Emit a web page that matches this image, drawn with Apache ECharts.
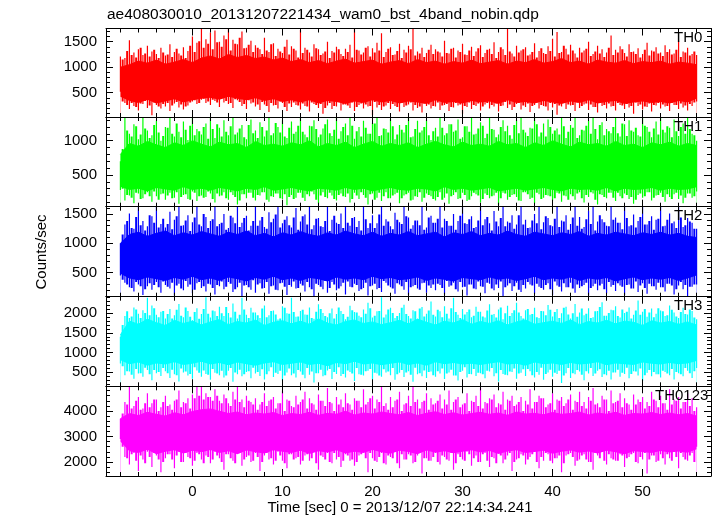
<!DOCTYPE html>
<html><head><meta charset="utf-8">
<script src="https://cdn.jsdelivr.net/npm/echarts@6/dist/echarts.min.js"></script>
<style>html,body{margin:0;padding:0;background:#fff}#c{width:717px;height:516px}</style>
</head><body><div id="c"></div><script>
const titleText = 'ae408030010_20131207221434_wam0_bst_4band_nobin.qdp';
const xLabel = 'Time [sec] 0 = 2013/12/07 22:14:34.241';
const yLabel = 'Counts/sec';
const bandNames = ['TH0', 'TH1', 'TH2', 'TH3', 'TH0123'];
const bandColors = ['#ff0000', '#00ff00', '#0000ff', '#00ffff', '#ff00ff'];

// spike extremes every 0.5 s from t = -8 (Peak/Trough) and from t = -7.75 (MidPeak/MidTrough);
// dense core edges every 1 s from t = -8
const tStart = -8, spikeStep = 0.5, midStart = -7.75, coreStep = 1;

const th0Peak = [1210,1180,1530,1290,1350,1240,1420,1310,1260,1380,
1230,1450,1300,1270,1390,1320,1600,1480,1750,1550,
1680,1720,1500,1620,1760,1540,1450,1700,1380,1520,
1430,1350,1580,1300,1470,1360,1280,1540,1410,1330,
1730,1380,1290,1450,1350,1270,1500,1320,1400,1260,
1360,1440,1755,1330,1290,1410,1370,1480,1665,1300,
1390,1250,1460,1340,1420,1755,1310,1380,1280,1440,
1350,1290,1520,1270,1380,1330,1460,1240,1400,1310,
1430,1280,1360,1490,1300,1350,1755,1270,1420,1330,
1390,1250,1470,1320,1280,1410,1560,1690,1300,1360,
1440,1270,1380,1330,1500,1260,1420,1350,1290,1620,
1340,1410,1280,1450,1310,1370,1260,1480,1330,1390,
1290,1430,1350,1270,1520,1310,1380,1260,1240];
const th0Trough = [520,300,180,240,150,280,200,60,260,190,
230,140,290,210,170,250,330,280,360,300,
260,340,220,310,280,200,350,240,180,290,
230,160,270,120,250,190,300,140,220,260,
170,240,130,280,200,90,250,180,230,150,
270,200,140,260,190,230,60,210,160,250,
180,240,130,220,270,150,200,110,240,190,
230,160,260,140,210,250,90,220,180,240,
150,270,190,230,130,250,200,160,280,170,
220,120,260,190,240,150,210,70,230,180,
250,140,200,270,160,220,110,240,190,230,
150,260,180,210,90,240,170,220,130,250,
190,230,140,260,180,210,150,240,330];
const th0MidPeak = [1150,1320,1240,1190,1380,1270,1210,1340,1180,1290,
1250,1200,1360,1230,1180,1420,1300,1510,1380,1460,
1350,1490,1400,1550,1330,1460,1580,1370,1440,1300,
1380,1260,1330,1450,1220,1310,1400,1250,1360,1190,
1280,1340,1210,1370,1240,1310,1180,1290,1350,1220,
1300,1190,1340,1250,1380,1210,1290,1330,1200,1360,
1240,1320,1180,1290,1350,1230,1270,1200,1340,1260,
1310,1210,1280,1360,1190,1300,1250,1330,1220,1370,
1200,1340,1260,1180,1390,1240,1310,1210,1290,1350,
1230,1300,1190,1370,1260,1320,1210,1280,1420,1250,
1330,1190,1290,1360,1220,1310,1270,1200,1380,1240,
1290,1350,1210,1300,1260,1190,1340,1230,1310,1270,
1220,1300,1250,1340,1200,1290,1230,1310];
const th0MidTrough = [330,260,300,220,290,340,250,310,230,280,
300,250,320,270,230,310,350,300,380,330,
360,310,390,340,300,370,320,280,350,310,
270,320,240,300,260,330,220,290,310,250,
290,230,310,260,280,200,300,240,320,270,
250,310,220,290,270,240,320,260,230,300,
280,220,300,250,310,260,230,290,270,240,
310,250,280,220,300,270,240,310,260,290,
230,300,260,290,240,320,270,220,300,250,
290,240,310,260,230,300,280,250,320,270,
260,310,240,290,270,220,300,260,290,240,
300,250,280,240,310,270,230,290,260,300,
270,240,300,260,290,250,280,310];
const th0CoreHi = [1000,1050,1120,1080,1140,1060,1100,1150,1090,1180,
1220,1160,1250,1190,1230,1170,1200,1140,1180,1110,
1150,1090,1130,1070,1120,1160,1080,1110,1140,1060,
1100,1130,1070,1150,1090,1120,1060,1110,1080,1140,
1070,1100,1130,1060,1120,1090,1150,1080,1110,1170,
1090,1120,1060,1140,1100,1080,1130,1070,1110,1090,
1120,1060,1100,1080,1050];
const th0CoreLo = [420,340,300,360,290,330,370,310,350,380,
400,360,420,380,350,390,340,370,320,350,
310,350,290,340,320,280,330,300,350,310,
340,290,330,310,280,350,300,320,290,340,
310,330,280,350,300,320,290,340,310,280,
330,300,350,290,320,340,280,310,330,300,
320,290,340,310,380];

const th1Peak = [700,1330,1100,1240,1020,1346,1150,1080,1290,1000,
1200,1346,1060,1130,1280,1010,1346,1170,1090,1250,
1346,1040,1190,1300,1080,1346,1120,1230,1020,1310,
1150,1270,1060,1346,1110,1200,1300,1040,1280,1130,
1346,1090,1220,1300,1050,1180,1310,1070,1346,1140,
1250,1346,1030,1200,1290,1100,1260,1346,1080,1170,
1320,1020,1230,1120,1346,1060,1290,1150,1300,1010,
1190,1346,1080,1240,1130,1310,1050,1210,1346,1100,
1270,1040,1346,1160,1090,1300,1220,1030,1300,1346,
1120,1190,1346,1060,1250,1310,1100,1180,1346,1040,
1230,1346,1080,1150,1290,1346,1020,1270,1170,1110,
1346,1060,1240,1300,1130,1080,1346,1200,1050,1280,
1346,1120,1190,1310,1070,1250,1346,1100,1000];
const th1Trough = [280,130,200,90,230,160,250,110,190,220,
140,240,170,80,210,150,260,120,200,180,
230,100,190,250,140,210,70,220,160,240,
130,200,250,110,180,230,150,60,210,170,
240,120,190,220,90,250,160,200,130,230,
180,100,240,150,210,70,230,170,120,250,
160,220,90,200,240,140,180,110,230,190,
130,250,170,80,210,150,240,120,190,220,
100,230,160,200,60,240,140,210,180,120,
250,150,90,220,170,200,130,240,110,190,
220,140,250,100,180,230,70,210,160,240,
120,190,230,150,80,210,170,250,130,200,
240,110,180,220,150,90,230,170,260];
const th1MidPeak = [880,1150,1060,1210,1090,1180,1040,1230,1120,1070,
1190,1100,1250,1050,1160,1220,1080,1140,1200,1030,
1170,1240,1060,1130,1210,1090,1180,1050,1230,1110,
1040,1200,1150,1080,1260,1120,1060,1190,1100,1220,
1130,1050,1210,1170,1090,1240,1110,1160,1030,1200,
1080,1220,1140,1060,1190,1100,1250,1070,1180,1120,
1210,1090,1160,1230,1050,1170,1120,1200,1080,1140,
1060,1190,1110,1240,1150,1030,1210,1130,1090,1180,
1220,1100,1170,1050,1200,1140,1080,1230,1110,1160,
1070,1180,1240,1120,1060,1200,1150,1090,1210,1130,
1190,1040,1160,1220,1100,1170,1230,1080,1140,1200,
1110,1250,1070,1150,1190,1060,1220,1130,1180,1090,
1160,1210,1050,1140,1200,1100,1170,1080];
const th1MidTrough = [300,210,170,240,150,220,190,260,140,230,
200,160,250,180,220,140,240,190,170,260,
150,230,200,160,250,180,130,220,240,170,
210,250,140,190,230,160,220,180,150,240,
170,220,260,140,200,180,240,150,210,190,
230,150,200,250,170,220,140,240,190,160,
200,240,160,220,130,190,250,170,210,150,
180,140,230,190,250,160,210,140,240,200,
150,210,190,240,160,230,180,220,130,250,
220,170,240,150,210,190,160,230,200,140,
190,230,160,210,250,140,220,180,240,170,
240,160,210,180,140,230,190,250,170,210,
180,220,150,240,200,170,230,190];
const th1CoreHi = [800,960,920,990,940,900,970,930,1000,950,
910,980,940,960,900,990,930,950,920,970,
940,1000,910,960,930,980,900,950,990,920,
960,930,970,900,950,990,940,910,980,930,
950,920,990,940,960,900,970,930,1000,950,
910,980,940,960,920,990,930,950,900,970,
940,980,920,960,930];
const th1CoreLo = [330,280,300,260,310,290,270,320,280,300,
270,310,290,260,300,280,320,270,290,310,
280,260,300,290,270,310,280,300,260,290,
310,280,270,300,290,260,320,280,300,270,
290,310,260,280,300,270,290,310,280,260,
300,280,290,270,310,260,300,280,290,310,
270,300,280,290,320];

const th2Peak = [1000,1320,1510,1250,1620,1380,1290,1460,1620,1330,
1270,1540,1400,1620,1310,1480,1360,1620,1290,1450,
1380,1620,1330,1500,1260,1440,1620,1350,1470,1300,
1620,1390,1280,1530,1420,1620,1340,1460,1270,1600,
1370,1490,1620,1310,1430,1280,1620,1400,1350,1510,
1620,1300,1450,1380,1620,1260,1480,1340,1620,1410,
1290,1520,1360,1620,1440,1310,1390,1620,1270,1470,
1350,1620,1420,1300,1500,1380,1620,1330,1460,1280,
1620,1410,1340,1550,1290,1620,1370,1480,1320,1620,
1400,1270,1500,1620,1360,1430,1290,1620,1390,1480,
1330,1620,1450,1280,1560,1620,1370,1410,1300,1620,
1440,1350,1620,1290,1490,1380,1620,1320,1460,1400,
1620,1300,1510,1370,1620,1280,1430,1350,1250];
const th2Trough = [450,330,250,180,300,120,270,210,340,160,
290,230,110,310,200,260,150,320,240,180,
300,130,270,220,340,170,250,100,290,210,
160,320,240,140,280,200,330,120,260,230,
310,180,250,100,290,220,160,340,200,270,
130,260,310,190,240,110,280,220,170,330,
250,140,300,210,120,270,230,320,160,240,
200,290,130,260,330,180,250,110,300,220,
270,150,310,200,240,100,280,190,330,170,
230,300,140,260,210,320,120,280,180,250,
330,160,240,290,110,270,200,310,150,260,
190,280,120,300,230,170,320,140,270,210,
250,180,310,130,280,220,100,260,300];
const th2MidPeak = [1150,1380,1260,1450,1310,1220,1480,1350,1270,1420,
1330,1240,1460,1300,1390,1210,1440,1320,1500,1260,
1410,1290,1350,1230,1470,1340,1280,1430,1220,1380,
1300,1450,1250,1360,1490,1270,1400,1310,1440,1230,
1460,1320,1240,1420,1290,1380,1210,1470,1330,1260,
1350,1430,1280,1220,1410,1340,1260,1490,1300,1370,
1240,1400,1330,1460,1250,1390,1310,1230,1440,1350,
1420,1270,1380,1300,1230,1470,1340,1410,1260,1390,
1310,1450,1220,1370,1430,1290,1350,1250,1480,1320,
1260,1390,1340,1240,1460,1310,1420,1280,1370,1230,
1440,1300,1250,1410,1330,1220,1480,1360,1290,1400,
1350,1240,1430,1310,1270,1450,1320,1380,1230,1420,
1290,1400,1340,1260,1440,1310,1370,1250];
const th2MidTrough = [380,300,240,340,270,220,320,290,250,350,
260,330,280,230,360,300,210,340,270,310,
240,290,350,260,310,220,330,280,250,370,
300,230,340,270,210,320,260,290,350,240,
280,340,220,310,260,360,240,300,230,330,
350,250,290,220,330,270,310,240,360,280,
230,320,270,340,250,290,210,330,280,300,
310,240,360,280,220,340,260,300,230,350,
260,330,230,300,350,250,320,270,210,290,
340,280,310,240,290,220,350,260,320,250,
230,300,270,330,240,310,280,220,340,290,
320,260,290,230,350,280,240,310,270,330,
250,310,280,220,340,290,260,300];
const th2CoreHi = [1000,1150,1190,1120,1170,1210,1130,1180,1140,1200,
1160,1120,1190,1150,1210,1130,1170,1110,1180,1140,
1200,1150,1120,1180,1140,1210,1160,1130,1190,1120,
1170,1140,1200,1130,1160,1190,1110,1180,1150,1200,
1130,1170,1140,1210,1150,1120,1190,1160,1130,1180,
1150,1200,1120,1170,1140,1190,1160,1130,1180,1150,
1190,1140,1170,1120,1100];
const th2CoreLo = [480,400,370,420,390,360,410,380,430,370,
400,360,420,390,350,410,380,430,370,400,
360,410,390,350,420,380,400,370,430,390,
410,370,390,420,360,400,380,350,410,390,
370,420,380,400,360,390,430,370,400,380,
420,360,400,380,410,350,390,420,370,400,
380,410,360,400,450];

const th3Peak = [1400,1930,1880,2150,1990,2080,2400,2200,1960,2040,
1870,2110,1950,2240,1900,2060,1820,2130,1980,2410,
1890,2050,2170,1930,2010,2250,1870,2400,1960,2140,
2020,1880,2200,1950,2070,1840,2180,2000,2400,1910,
2060,1970,2150,1860,2230,2010,1900,2120,1980,2060,
1850,2190,2030,1940,2100,2270,1890,2050,2410,1970,
2140,1880,2010,2220,1930,2080,1860,2160,1990,2300,
1920,2050,2180,1870,2400,1960,2110,2030,1900,2170,
2040,1890,2230,1980,2100,1850,2190,2010,2270,1930,
2080,1960,2140,1880,2050,2210,1920,2110,2000,2170,
1870,2240,2020,1950,2130,1900,2060,2280,1940,2090,
2180,1890,2010,2150,1960,2330,2040,1910,2120,1990,
2070,1930,2200,2020,1880,2140,1970,2060,1850];
const th3Trough = [720,420,510,330,460,380,550,290,470,400,
520,350,440,260,490,410,330,540,380,450,
300,480,420,360,530,250,440,390,500,340,
460,400,310,520,370,450,280,490,420,360,
510,340,430,230,470,390,540,320,450,400,
360,500,270,440,410,530,310,460,380,490,
420,300,480,370,520,250,440,390,350,510,
380,460,320,490,410,280,530,360,440,400,
470,340,510,390,260,450,420,500,330,480,
400,520,360,430,300,490,380,450,220,470,
350,440,510,290,460,400,530,370,420,310,
490,380,450,340,520,410,270,480,390,440,
360,500,420,310,470,390,530,350,600];
const th3MidPeak = [1700,2050,1920,2100,1880,2010,1950,2130,1900,2060,
1980,1870,2090,1940,2150,1910,2030,1860,2110,1990,
2070,1930,2000,2160,1890,2040,1960,2100,1880,2020,
1950,2120,1900,2060,1970,1870,2140,1990,2030,1920,
2090,1960,1880,2040,2110,1930,2000,1870,2150,1980,
1910,2080,2020,1900,1990,2130,1940,2060,1890,2100,
2010,1930,2140,1980,1870,2050,2120,1920,2070,1960,
2090,1900,1990,2130,2030,1880,1970,2100,1940,2040,
1920,2070,1960,1890,2150,2000,1930,2080,2020,1870,
2110,1980,1900,2060,1950,2090,2030,1880,2140,1970,
2000,1910,2120,1990,1880,2050,2160,1940,2010,2080,
1930,2100,2040,1870,2070,1960,2110,2020,1900,2130,
2050,1950,2090,1920,2030,1980,2100,1890];
const th3MidTrough = [650,520,430,580,470,610,440,550,500,600,
470,560,420,590,510,450,620,480,540,430,
580,460,530,410,600,490,560,440,520,610,
500,570,440,620,480,530,410,590,460,550,
430,600,510,470,560,420,580,500,620,450,
540,460,600,430,520,580,480,410,570,510,
600,440,550,490,430,610,470,540,500,420,
520,590,460,560,410,500,620,450,580,480,
440,530,600,470,550,430,510,590,460,570,
580,420,500,610,450,560,480,530,410,600,
470,550,430,520,600,460,570,440,530,490,
560,480,610,450,510,590,420,550,500,440,
530,460,580,500,440,600,470,520];
const th3CoreHi = [1450,1800,1720,1850,1760,1690,1820,1740,1800,1700,
1780,1840,1710,1790,1750,1830,1690,1770,1810,1730,
1800,1720,1860,1750,1700,1790,1830,1740,1780,1710,
1760,1820,1730,1850,1770,1700,1800,1750,1840,1720,
1790,1740,1810,1700,1780,1830,1720,1760,1800,1740,
1830,1710,1790,1750,1820,1730,1800,1770,1690,1810,
1750,1790,1720,1780,1700];
const th3CoreLo = [800,700,740,660,720,690,750,680,710,760,
690,730,670,740,700,660,720,750,680,710,
740,680,710,650,730,700,760,690,720,670,
710,740,680,720,660,750,700,730,690,710,
680,720,750,690,710,660,740,700,720,680,
730,690,710,750,670,720,700,680,740,710,
690,730,700,720,780];

const th0123Peak = [3700,4350,4960,4200,4550,4100,4700,4300,4450,4150,
4600,4250,4400,4800,4350,4500,4650,4960,4960,4700,
4550,4850,4400,4650,4300,4750,4960,4450,4600,4350,
4500,4250,4700,4400,4550,4300,4800,4450,4200,4600,
4350,4750,4500,4250,4650,4400,4900,4300,4550,4450,
4700,4250,4500,4400,4850,4350,4600,4450,4960,4300,
4550,4400,4750,4250,4600,4960,4450,4350,4700,4500,
4300,4650,4450,4800,4350,4550,4250,4700,4400,4600,
4900,4350,4500,4650,4300,4750,4450,4600,4250,4550,
4400,4850,4350,4600,4500,4250,4700,4450,4550,4300,
4650,4400,4750,4350,4550,4900,4300,4600,4450,4800,
4350,4700,4500,4250,4650,4450,4550,4350,4750,4400,
4600,4300,4850,4450,4550,4350,4700,4500,4150];
const th0123Trough = [2900,2200,1900,2350,1650,2100,2400,1800,2250,1600,
2150,2300,1750,2400,2000,2200,1850,2350,2100,2250,
1950,2400,2150,1700,2300,2050,2450,1850,2200,2000,
2350,1650,2250,2100,1900,2400,2050,1750,2300,2150,
1900,2250,2050,2400,1700,2200,2350,1950,2100,1800,
2300,2050,1850,2250,2400,1600,2150,2000,2350,1900,
2200,2400,1750,2100,2300,1950,2250,1550,2150,2050,
2350,1900,2200,2050,1700,2300,2100,2400,1850,2250,
2000,2350,1800,2150,2400,1950,2250,1650,2100,2300,
1900,2200,2400,1750,2050,2300,1950,2150,1600,2250,
2350,1850,2100,2300,2000,1700,2250,2400,1900,2150,
2050,2300,1800,2200,2350,1950,2100,1550,2250,2000,
2300,1900,2150,2400,1750,2200,2050,2350,2600];
const th0123MidPeak = [3900,4250,4100,4400,4050,4300,4150,4450,4000,4350,
4200,4050,4450,4150,4300,4100,4500,4600,4450,4550,
4400,4600,4300,4500,4200,4450,4350,4150,4400,4250,
4050,4350,4200,4450,4100,4300,4000,4400,4150,4250,
4450,4100,4300,4050,4400,4200,4350,4000,4250,4150,
4300,4050,4400,4150,4250,4500,4100,4350,4200,4050,
4150,4450,4000,4300,4200,4350,4100,4400,4050,4250,
4400,4100,4250,4050,4450,4150,4300,4000,4350,4200,
4100,4300,4450,4150,4250,4050,4400,4200,4350,4000,
4250,4100,4350,4500,4150,4300,4050,4400,4200,4450,
4050,4350,4200,4100,4400,4250,4150,4450,4000,4300,
4400,4150,4300,4050,4250,4350,4100,4200,4450,4150,
4300,4050,4250,4400,4100,4350,4200,4000];
const th0123MidTrough = [2600,2150,2300,2050,2250,1950,2200,2350,2100,2000,
2300,2100,2250,2000,2350,2150,2050,2300,1950,2200,
2100,2250,2000,2300,2150,1950,2350,2100,2250,2050,
2200,2000,2350,2150,2050,2250,1950,2300,2100,2200,
2050,2300,2150,1950,2250,2100,2000,2350,2200,2050,
2250,2100,2000,2300,2150,2350,2050,2200,1950,2250,
2150,1950,2300,2100,2250,2000,2350,2150,2050,2200,
2000,2250,2100,2350,1950,2200,2050,2300,2150,2000,
2300,2050,2200,1950,2250,2100,2350,2000,2150,2250,
2100,2300,2000,2200,2350,2050,2150,2250,1950,2300,
2200,2050,2250,2100,2000,2350,2150,2050,2300,2100,
2050,2250,2150,2300,2000,2200,2350,2100,2250,2050,
2150,2300,2050,2200,2350,2100,2250,2000];
const th0123CoreHi = [3700,3900,3820,3950,3870,3800,3930,3850,3980,4050,
4080,3990,3900,3960,3850,3920,3880,3940,3820,3900,
3860,3950,3830,3910,3870,3990,3840,3920,3880,3960,
3900,3850,3940,3820,3910,3970,3860,3930,3840,3900,
3950,3870,3920,3830,3960,3880,3910,3850,3940,3870,
3900,3960,3840,3920,3870,3950,3830,3900,3880,3940,
3860,3920,3850,3900,3800];
const th0123CoreLo = [2800,2420,2350,2480,2300,2400,2460,2330,2440,2380,
2470,2350,2420,2300,2450,2380,2330,2460,2400,2350,
2440,2310,2420,2370,2460,2330,2400,2350,2470,2380,
2320,2440,2390,2300,2450,2360,2420,2340,2400,2460,
2370,2430,2310,2410,2460,2350,2390,2440,2320,2400,
2450,2360,2410,2330,2440,2380,2300,2420,2390,2350,
2430,2370,2410,2360,2500];

const xRange = [-9.6, 57.6];
const xTickLabels = [0, 10, 20, 30, 40, 50];
const xMinorStep = 2;
const yRanges = [[24, 1759], [38, 1346], [91, 1624], [135, 2424], [1451, 4968]];
const yTickLabels = [[500, 1000, 1500], [500, 1000], [500, 1000, 1500], [500, 1000, 1500, 2000], [2000, 3000, 4000]];
const yMinorStep = [100, 100, 100, 100, 200];

const panels = [
  [th0Peak, th0Trough, th0MidPeak, th0MidTrough, th0CoreHi, th0CoreLo],
  [th1Peak, th1Trough, th1MidPeak, th1MidTrough, th1CoreHi, th1CoreLo],
  [th2Peak, th2Trough, th2MidPeak, th2MidTrough, th2CoreHi, th2CoreLo],
  [th3Peak, th3Trough, th3MidPeak, th3MidTrough, th3CoreHi, th3CoreLo],
  [th0123Peak, th0123Trough, th0123MidPeak, th0123MidTrough, th0123CoreHi, th0123CoreLo]
];

const panelTops = [28.5, 117, 206.7, 296.7, 386.3];
const panelBottom = 476;
const FONT = '"Liberation Sans", Arial, sans-serif';

function stepValues(lo, hi, step) {
  const out = [];
  for (let v = Math.ceil(lo / step) * step; v <= hi + 1e-9; v += step) out.push(+v.toFixed(6));
  return out;
}
const xMinor = stepValues(xRange[0], xRange[1], xMinorStep);

const grids = [], xAxes = [], yAxes = [], series = [], graphics = [];
panels.forEach((p, i) => {
  const top = panelTops[i];
  const bottom = i < 4 ? panelTops[i + 1] : panelBottom;
  grids.push({ left: 106, right: 6, top: top, height: bottom - top, containLabel: false });
  const last = i === 4;
  const mkX = (pos, ticks, len, line, labels) => ({
    type: 'value', gridIndex: i, min: xRange[0], max: xRange[1], position: pos, z: 10,
    axisLine: { show: line, onZero: false, lineStyle: { color: '#000', width: 1 } },
    axisTick: { show: true, inside: true, length: len, customValues: ticks, lineStyle: { color: '#000', width: 1 } },
    axisLabel: { show: labels, customValues: ticks, formatter: v => String(v), color: '#000', fontSize: 15, fontFamily: FONT, margin: 8 },
    splitLine: { show: false }
  });
  xAxes.push(mkX('bottom', xTickLabels, 7, true, last));
  xAxes.push(mkX('bottom', xMinor, 4, false, false));
  xAxes.push(mkX('top', xTickLabels, 7, true, false));
  xAxes.push(mkX('top', xMinor, 4, false, false));
  const yr = yRanges[i];
  const yMinor = stepValues(yr[0], yr[1], yMinorStep[i]);
  const mkY = (pos, ticks, len, line, labels) => ({
    type: 'value', gridIndex: i, min: yr[0], max: yr[1], position: pos, offset: 0, z: 10,
    axisLine: { show: line, onZero: false, lineStyle: { color: '#000', width: 1 } },
    axisTick: { show: true, inside: true, length: len, customValues: ticks, lineStyle: { color: '#000', width: 1 } },
    axisLabel: { show: labels, customValues: ticks, formatter: v => String(v), color: '#000', fontSize: 15, fontFamily: FONT, margin: 9 },
    splitLine: { show: false }
  });
  yAxes.push(mkY('left', yTickLabels[i], 7, true, true));
  yAxes.push(mkY('left', yMinor, 4, false, false));
  yAxes.push(mkY('right', yTickLabels[i], 7, true, false));
  yAxes.push(mkY('right', yMinor, 4, false, false));

  const [peak, trough, midPeak, midTrough, coreHi, coreLo] = p;
  const color = bandColors[i];
  // dense core: colour area under the upper core edge, white area under the lower core edge
  series.push({
    type: 'line', xAxisIndex: 4 * i, yAxisIndex: 4 * i, silent: true, symbol: 'none', z: 1,
    data: coreHi.map((v, k) => [tStart + k * coreStep, v]),
    lineStyle: { color: color, width: 1 },
    areaStyle: { color: color, opacity: 1, origin: 'start' }
  });
  series.push({
    type: 'line', xAxisIndex: 4 * i, yAxisIndex: 4 * i, silent: true, symbol: 'none', z: 2,
    data: coreLo.map((v, k) => [tStart + k * coreStep, v]),
    lineStyle: { width: 0, opacity: 0 },
    areaStyle: { color: '#ffffff', opacity: 1, origin: 'start' }
  });
  const spikeRender = (w) => (params, api) => {
    const a = api.coord([api.value(0), api.value(2)]);
    const b = api.coord([api.value(0), api.value(1)]);
    return { type: 'rect', shape: { x: a[0] - w / 2, y: a[1], width: w, height: b[1] - a[1] }, style: { fill: color } };
  };
  // spikes: vertical strokes from trough to peak
  series.push({
    type: 'custom', xAxisIndex: 4 * i, yAxisIndex: 4 * i, silent: true, z: 3, clip: true,
    data: midPeak.map((v, k) => [midStart + k * spikeStep, midTrough[k], v]),
    encode: { x: 0, y: [1, 2] }, renderItem: spikeRender(2.0)
  });
  series.push({
    type: 'custom', xAxisIndex: 4 * i, yAxisIndex: 4 * i, silent: true, z: 4, clip: true,
    data: peak.map((v, k) => [tStart + k * spikeStep, trough[k], v]),
    encode: { x: 0, y: [1, 2] }, renderItem: spikeRender(1.2)
  });
  graphics.push({
    type: 'text', left: i === 4 ? 655 : 674, top: top + 2, z: 20,
    style: { text: bandNames[i], font: '15px ' + FONT, fill: '#000' }
  });
});

graphics.push({ type: 'text', left: 107, top: 7, style: { text: titleText, font: '15.5px ' + FONT, fill: '#000' } });
graphics.push({ type: 'text', x: 400, y: 508, style: { text: xLabel, font: '15px ' + FONT, fill: '#000', textAlign: 'center', textVerticalAlign: 'middle' } });
graphics.push({ type: 'text', x: 42, y: 252, rotation: Math.PI / 2, style: { text: yLabel, font: '15px ' + FONT, fill: '#000', textAlign: 'center', textVerticalAlign: 'middle' } });

const chart = echarts.init(document.getElementById('c'), null, { renderer: 'canvas' });
chart.setOption({
  animation: false,
  backgroundColor: '#fff',
  grid: grids, xAxis: xAxes, yAxis: yAxes, series: series, graphic: graphics
});
</script></body></html>
